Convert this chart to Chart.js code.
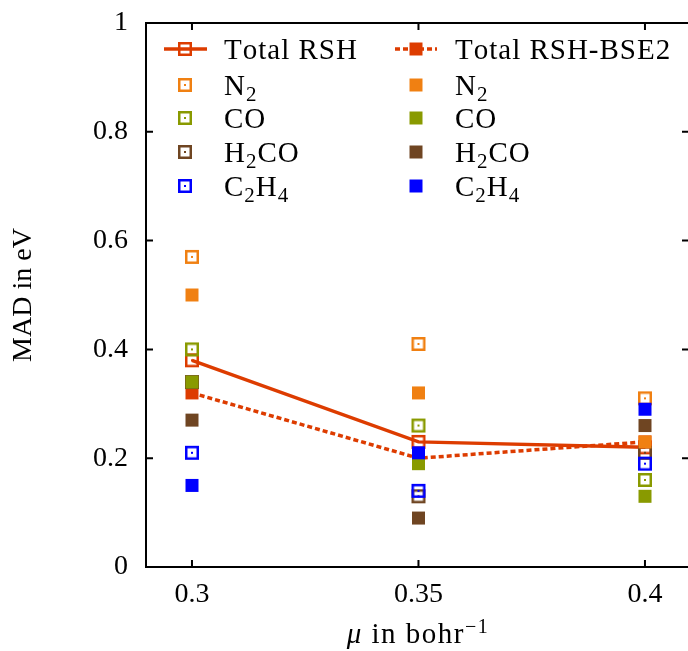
<!DOCTYPE html>
<html>
<head>
<meta charset="utf-8">
<script src="https://cdn.jsdelivr.net/npm/chart.js@4.4.1/dist/chart.umd.min.js"></script>
<style>
  html, body { margin: 0; padding: 0; background: #fff; overflow: hidden; }
  #wrap { width: 688px; height: 651px; }
</style>
</head>
<body>
<div id="wrap"><canvas id="madChart" width="688" height="651"></canvas></div>
<script>
// range-separation parameter mu (bohr^-1) and axis ticks
const muValues = [0.3, 0.35, 0.4];
const yTicks = [0, 0.2, 0.4, 0.6, 0.8, 1];

// molecules ('_' marks a subscript digit)
const species = ['N_2', 'CO', 'H_2CO', 'C_2H_4'];
const speciesColors = ['#f08012', '#899a00', '#6f4522', '#0000ff'];
const totalColor = '#dd3c00';

// MAD in eV, plain RSH
const rshN2 = [0.57, 0.41, 0.31];
const rshCO = [0.40, 0.26, 0.16];
const rshH2CO = [0.34, 0.13, 0.21];
const rshC2H4 = [0.21, 0.14, 0.19];

// MAD in eV, RSH-BSE2
const bseN2 = [0.50, 0.32, 0.23];
const bseCO = [0.34, 0.19, 0.13];
const bseH2CO = [0.27, 0.09, 0.26];
const bseC2H4 = [0.15, 0.21, 0.29];

// averages over the four molecules
const totalRSH = [0.38, 0.23, 0.22];
const totalBSE2 = [0.32, 0.20, 0.23];

const FONT = 'Liberation Serif';
const dottedDash = [5, 3];

// gnuplot style markers: open square with a centre dot, or filled square
function marker(color, filled) {
    const c = document.createElement('canvas');
    const g = c.getContext('2d');
    if (filled) {
        c.width = 15; c.height = 15;
        g.fillStyle = color;
        g.fillRect(1, 1, 13, 13);
    } else {
        c.width = 16; c.height = 16;
        g.strokeStyle = color;
        g.lineWidth = 2.5;
        g.strokeRect(2.25, 2.25, 11.5, 11.5);
        g.fillStyle = color;
        g.fillRect(7, 7, 2, 2);
    }
    return c;
}

const pts = vals => vals.map((v, i) => ({ x: muValues[i], y: v }));

const rshSeries = [rshN2, rshCO, rshH2CO, rshC2H4];
const bseSeries = [bseN2, bseCO, bseH2CO, bseC2H4];

const totalRshMarker = marker(totalColor, false);
const totalBseMarker = marker(totalColor, true);
const openMarkers = speciesColors.map(c => marker(c, false));
const filledMarkers = speciesColors.map(c => marker(c, true));

// lower order = drawn on top
const datasets = [
    {
        label: 'Total RSH', data: pts(totalRSH),
        borderColor: totalColor, borderWidth: 3.5, tension: 0,
        pointStyle: totalRshMarker, showLine: true, order: 10
    },
    {
        label: 'Total RSH-BSE2', data: pts(totalBSE2),
        borderColor: totalColor, borderWidth: 3.5, borderDash: dottedDash, tension: 0,
        pointStyle: totalBseMarker, showLine: true, order: 9
    }
];
species.forEach((name, i) => {
    datasets.push({
        label: name + ' RSH', data: pts(rshSeries[i]),
        borderColor: speciesColors[i], pointStyle: openMarkers[i],
        showLine: false, order: 8 - i
    });
});
species.forEach((name, i) => {
    datasets.push({
        label: name + ' RSH-BSE2', data: pts(bseSeries[i]),
        borderColor: speciesColors[i], pointStyle: filledMarkers[i],
        showLine: false, order: 4 - i
    });
});

// text with '_x' subscripts
function drawRich(ctx, text, x, baseline, size) {
    let cx = x;
    for (let i = 0; i < text.length; i++) {
        let ch = text[i], sub = false;
        if (ch === '_') { ch = text[++i]; sub = true; }
        ctx.font = (sub ? Math.round(size * 0.71) : size) + 'px "' + FONT + '"';
        ctx.fillText(ch, cx, baseline + (sub ? 6 : 0));
        cx += ctx.measureText(ch).width;
    }
}

const framePlugin = {
    id: 'frame',
    afterDraw(chart) {
        const { ctx, chartArea: a, scales: { x, y } } = chart;
        ctx.save();
        ctx.strokeStyle = '#000';
        ctx.lineWidth = 2;
        // right edge of the frame falls just outside the picture
        ctx.beginPath();
        ctx.moveTo(a.right + 2, a.top);
        ctx.lineTo(a.left, a.top);
        ctx.lineTo(a.left, a.bottom);
        ctx.lineTo(a.right + 2, a.bottom);
        yTicks.forEach(v => {
            const py = y.getPixelForValue(v);
            ctx.moveTo(a.left, py); ctx.lineTo(a.left + 7, py);
            ctx.moveTo(a.right + 1, py); ctx.lineTo(a.right - 6, py);
        });
        muValues.forEach(v => {
            const px = x.getPixelForValue(v);
            ctx.moveTo(px, a.bottom); ctx.lineTo(px, a.bottom - 7);
            ctx.moveTo(px, a.top); ctx.lineTo(px, a.top + 7);
        });
        ctx.stroke();

        // x axis title: italic mu, superscript -1
        ctx.fillStyle = '#000';
        ctx.textBaseline = 'alphabetic';
        ctx.textAlign = 'left';
        ctx.letterSpacing = '1.5px';
        const parts = [
            { t: 'μ', f: 'italic 29px "' + FONT + '"', dy: 0 },
            { t: ' in bohr', f: '29px "' + FONT + '"', dy: 0 },
            { t: '−1', f: '20px "' + FONT + '"', dy: -10 }
        ];
        let w = 0;
        parts.forEach(p => { ctx.font = p.f; p.w = ctx.measureText(p.t).width; w += p.w; });
        let cx = 418 - w / 2;
        parts.forEach(p => { ctx.font = p.f; ctx.fillText(p.t, cx, 643 + p.dy); cx += p.w; });

        // legend, two columns
        const rowY = [49, 85, 118, 152, 186];
        const cols = [
            { mx: 185, lx0: 164, lx1: 207, tx: 224 },
            { mx: 416, lx0: 395, lx1: 437, tx: 455 }
        ];
        ctx.lineWidth = 3.5;
        ctx.strokeStyle = totalColor;
        ctx.beginPath();
        ctx.moveTo(cols[0].lx0, rowY[0]); ctx.lineTo(cols[0].lx1, rowY[0]);
        ctx.stroke();
        ctx.setLineDash(dottedDash);
        ctx.beginPath();
        ctx.moveTo(cols[1].lx0, rowY[0]); ctx.lineTo(cols[1].lx1, rowY[0]);
        ctx.stroke();
        ctx.setLineDash([]);
        const put = (img, xx, yy) => ctx.drawImage(img, xx - img.width / 2, yy - img.height / 2);
        put(totalRshMarker, cols[0].mx, rowY[0]);
        put(totalBseMarker, cols[1].mx, rowY[0]);
        ctx.letterSpacing = '1px';
        drawRich(ctx, 'Total RSH', cols[0].tx, rowY[0] + 10, 29);
        drawRich(ctx, 'Total RSH-BSE2', cols[1].tx, rowY[0] + 10, 29);
        species.forEach((name, i) => {
            const yy = rowY[i + 1];
            put(openMarkers[i], cols[0].mx, yy);
            put(filledMarkers[i], cols[1].mx, yy);
            drawRich(ctx, name, cols[0].tx, yy + 10, 29);
            drawRich(ctx, name, cols[1].tx, yy + 10, 29);
        });
        ctx.restore();
    }
};

const tickFont = { family: FONT, size: 28 };

new Chart(document.getElementById('madChart'), {
    type: 'line',
    data: { datasets },
    options: {
        responsive: false,
        animation: false,
        events: [],
        layout: { autoPadding: false, padding: { top: 23, right: 0, bottom: 0, left: 0 } },
        plugins: { legend: { display: false }, tooltip: { enabled: false } },
        scales: {
            x: {
                type: 'linear',
                min: 0.28985,
                max: 0.40950,
                grid: { display: false, drawTicks: false },
                border: { display: false },
                afterBuildTicks: s => { s.ticks = muValues.map(v => ({ value: v })); },
                ticks: {
                    font: tickFont, color: '#000', padding: 11,
                    autoSkip: false, maxRotation: 0,
                    callback: v => String(v)
                },
                afterFit: s => {
                    s.height = 84;
                    s.paddingLeft = 0; s.paddingRight = 0;
                }
            },
            y: {
                min: 0,
                max: 1,
                grid: { display: false, drawTicks: false },
                border: { display: false },
                afterBuildTicks: s => { s.ticks = yTicks.map(v => ({ value: v })); },
                ticks: {
                    font: tickFont, color: '#000', padding: 18,
                    callback: v => String(v)
                },
                title: {
                    display: true, text: 'MAD in eV', color: '#000',
                    font: { family: FONT, size: 28 },
                    padding: { top: 7, bottom: 0 }
                },
                afterFit: s => {
                    s.width = 146;
                    s.paddingTop = 0; s.paddingBottom = 0;
                }
            }
        }
    },
    plugins: [framePlugin]
});
</script>
</body>
</html>
